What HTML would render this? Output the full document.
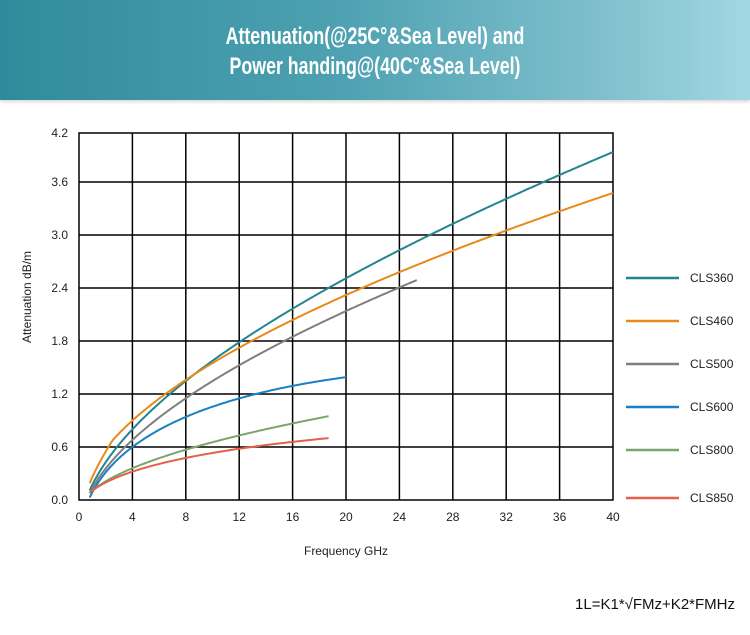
<!DOCTYPE html>
<html><head><meta charset="utf-8"><style>
body{margin:0;width:750px;height:635px;background:#fff;overflow:hidden;font-family:"Liberation Sans","DejaVu Sans",sans-serif}
.hdr{position:absolute;left:0;top:0;width:750px;height:100px;background:linear-gradient(90deg,#2f8b9b 0%,#4da1b1 45%,#7fbfcd 80%,#a3d7e3 100%);box-shadow:0 2px 3px rgba(0,0,0,0.15)}
.t{position:absolute;left:0;width:750px;text-align:center;color:#fff;font-weight:bold;font-size:24px;transform:scaleX(0.74);transform-origin:375px 0}
</style></head><body>
<div class="hdr"></div>
<div class="t" style="top:23px">Attenuation(@25C°&amp;Sea Level) and</div>
<div class="t" style="top:53px">Power handing@(40C°&amp;Sea Level)</div>
<svg width="750" height="635" style="position:absolute;left:0;top:0" id="s">
<g id="grid" stroke="#000" stroke-width="1.5" fill="none"></g>
<g id="curves" fill="none" stroke-width="2"></g>
<g font-size="12" fill="#222" id="lab"></g>
<text x="31" y="297" font-size="12" fill="#222" text-anchor="middle" transform="rotate(-90 31 297)">Attenuation dB/m</text>
<text x="346" y="555" font-size="12" fill="#222" text-anchor="middle">Frequency GHz</text>
<text x="735" y="609" font-size="15" fill="#111" text-anchor="end">1L=K1*√FMz+K2*FMHz</text>
</svg>
<script>
var ns="http://www.w3.org/2000/svg";
function el(p,t,a,txt){var e=document.createElementNS(ns,t);for(var k in a)e.setAttribute(k,a[k]);if(txt!=null)e.textContent=txt;p.appendChild(e);return e;}
var X=function(f){return 79+f*13.35},Y=function(v){return 500-v*88.33};
var g=document.getElementById('grid'),lab=document.getElementById('lab'),cv=document.getElementById('curves');
el(g,'rect',{x:79,y:133,width:534,height:367});
for(var i=1;i<10;i++)el(g,'line',{x1:X(i*4),x2:X(i*4),y1:133,y2:500});
for(var i=1;i<7;i++)el(g,'line',{x1:79,x2:613,y1:Y(i*0.6),y2:Y(i*0.6)});
for(var i=0;i<=10;i++)el(lab,'text',{x:X(i*4),y:521,'text-anchor':'middle'},String(i*4));
var yl=['0.0','0.6','1.2','1.8','2.4','3.0','3.6','4.2'];
for(var i=0;i<8;i++)el(lab,'text',{x:68,y:(i==7?137:Y(i*0.6)+4),'text-anchor':'end'},yl[i]);
var C=[["CLS360","#23868f",.572,.0185,-.418,40,278],
["CLS460","#e88a1a",.501,.0114,-.148,40,321],
["CLS500","#7f7f7f",.508,.0127,-.387,25.3,364],
["CLS600","#1a80c4",.679,-.0555,-.536,20,407],
["CLS800","#7aa56e",.2524,.0002,-.146,18.7,450],
["CLS850","#e46049",.2644,-.016,-.1436,18.7,498]];
C.forEach(function(c){var d="";for(var f=0.8;f<=c[5]+1e-6;f+=0.1){var v=c[2]*Math.sqrt(f)+c[3]*f+c[4];if(c[0]=="CLS460"&&f<2.5){v=v-(2.5-f)*0.07;}d+=(d?"L":"M")+X(f).toFixed(1)+","+Y(v).toFixed(1);}
el(cv,'path',{d:d,stroke:c[1]});
el(cv,'line',{x1:626,x2:679,y1:c[6],y2:c[6],stroke:c[1],'stroke-width':2.5});
el(lab,'text',{x:690,y:c[6]+4},c[0]);});
</script>
</body></html>
